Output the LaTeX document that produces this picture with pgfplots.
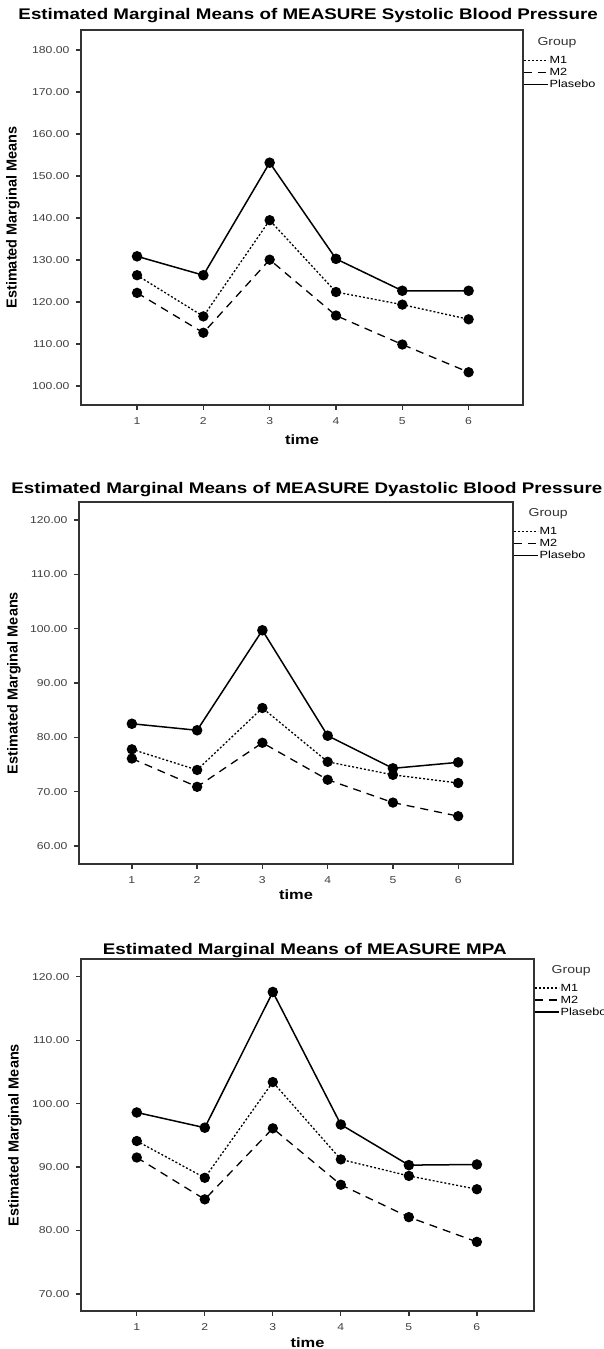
\documentclass[border=0pt]{standalone}
\usepackage{fontspec}
\setmainfont{Liberation Sans}[FakeStretch=1.22]
\newfontfamily\ylabfont{Liberation Sans}
\usepackage{pgfplots}
\pgfplotsset{compat=1.18}

\pgfplotsset{
  emm/.style={
    scale only axis,
    clip=false,
    anchor=south west,
    axis line style={black!80, line width=1.3pt},
    every tick/.style={black!80, line width=1.3pt},
    tick align=outside,
    major tick length=5pt,
    xtick pos=left, ytick pos=left,
    xtick={1,2,3,4,5,6},
    /pgf/number format/assume math mode=true,
    ticklabel style={font=\fontsize{10}{12}\selectfont, text=black!75},
    yticklabel style={/pgf/number format/.cd, fixed, fixed zerofill, precision=2, /tikz/.cd, xshift=-3pt},
    xticklabel style={yshift=-4pt},
    xlabel={time}, ylabel={Estimated Marginal Means},
    xlabel style={font=\fontsize{13.5}{16}\selectfont\bfseries, anchor=center},
    ylabel style={font=\ylabfont\fontsize{14.5}{17}\selectfont\bfseries, anchor=center, rotate=0},
    title style={font=\fontsize{15.4}{18}\selectfont\bfseries, anchor=center},
    legend style={draw=none, fill=none, anchor=north west,
      at={(axis description cs:1,0.935)},
      font=\fontsize{10.4}{12}\selectfont, inner sep=0pt,
      nodes={inner sep=1pt, text height=8pt, text depth=2pt}, row sep=0pt},
    legend cell align=left,
    legend image code/.code={\draw[#1, line width=1.4pt] (0pt,0pt) -- (24pt,0pt);},
  },
  sm1/.style={black, line width=1.3pt, dash pattern=on 2pt off 2pt, mark=*, mark size=4.5pt, mark options={solid}},
  sm2/.style={black, line width=1.3pt, dash pattern=on 8pt off 6pt, mark=*, mark size=4.5pt, mark options={solid}},
  spl/.style={black, line width=1.5pt, solid, mark=*, mark size=4.5pt, mark options={solid}},
}

\begin{document}
\begin{tikzpicture}[x=1pt,y=1pt]
\path[use as bounding box] (0,0) rectangle (604,1349);

% ---------- Plot 1: Systolic ----------
\begin{axis}[emm,
  at={(81pt,944pt)}, width=442pt, height=375pt,
  xmin=0.155, xmax=6.82, ymin=95.5, ymax=184.8,
  ytick={100,110,...,180},
  title={Estimated Marginal Means of MEASURE Systolic Blood Pressure},
  title style={at={(axis description cs:0.514,1)}, yshift=8pt},
  xlabel style={at={(axis description cs:0.5,-0.093)}},
  ylabel style={at={(axis description cs:-0.154,0.5)}},
]
\addplot[sm1] coordinates {(1,126.4) (2,116.6) (3,139.5) (4,122.4) (5,119.4) (6,115.9)};
\addlegendentry{M1}
\addplot[sm2] coordinates {(1,122.2) (2,112.7) (3,130.1) (4,116.8) (5,109.9) (6,103.3)};
\addlegendentry{M2}
\addplot[spl] coordinates {(1,130.9) (2,126.4) (3,153.2) (4,130.3) (5,122.7) (6,122.7)};
\addlegendentry{Plasebo}
\node[font=\fontsize{11.5}{13}\selectfont, text=black!80] at (axis description cs:1.077,0.965) {Group};
\end{axis}

% ---------- Plot 2: Diastolic ----------
\begin{axis}[emm,
  at={(79pt,485pt)}, width=434pt, height=362pt,
  xmin=0.19, xmax=6.84, ymin=56.7, ymax=123.3,
  ytick={60,70,...,120},
  title={Estimated Marginal Means of MEASURE Dyastolic Blood Pressure},
  title style={at={(axis description cs:0.525,1)}, yshift=6pt},
  xlabel style={at={(axis description cs:0.5,-0.086)}},
  ylabel style={at={(axis description cs:-0.15,0.5)}},
]
\addplot[sm1] coordinates {(1,77.8) (2,74.0) (3,85.4) (4,75.5) (5,73.1) (6,71.6)};
\addlegendentry{M1}
\addplot[sm2] coordinates {(1,76.1) (2,70.9) (3,79.0) (4,72.2) (5,68.0) (6,65.5)};
\addlegendentry{M2}
\addplot[spl] coordinates {(1,82.5) (2,81.3) (3,99.7) (4,80.3) (5,74.3) (6,75.4)};
\addlegendentry{Plasebo}
\node[font=\fontsize{11.5}{13}\selectfont, text=black!80] at (axis description cs:1.081,0.967) {Group};
\end{axis}

% ---------- Plot 3: MPA ----------
\begin{axis}[emm,
  at={(81pt,38pt)}, width=453pt, height=352pt,
  xmin=0.18, xmax=6.84, ymin=67.3, ymax=122.8,
  ytick={70,80,...,120},
  title={Estimated Marginal Means of MEASURE MPA},
  title style={at={(axis description cs:0.494,1)}, yshift=2pt},
  xlabel style={at={(axis description cs:0.5,-0.091)}},
  ylabel style={at={(axis description cs:-0.146,0.5)}},
]
\addplot[sm1] coordinates {(1,94.1) (2,88.3) (3,103.4) (4,91.2) (5,88.6) (6,86.5)};
\addlegendentry{M1}
\addplot[sm2] coordinates {(1,91.5) (2,84.9) (3,96.1) (4,87.2) (5,82.1) (6,78.2)};
\addlegendentry{M2}
\addplot[spl] coordinates {(1,98.6) (2,96.2) (3,117.6) (4,96.7) (5,90.3) (6,90.4)};
\addlegendentry{Plasebo}
\node[font=\fontsize{11.5}{13}\selectfont, text=black!80] at (axis description cs:1.082,0.966) {Group};
\end{axis}
\end{tikzpicture}
\end{document}
